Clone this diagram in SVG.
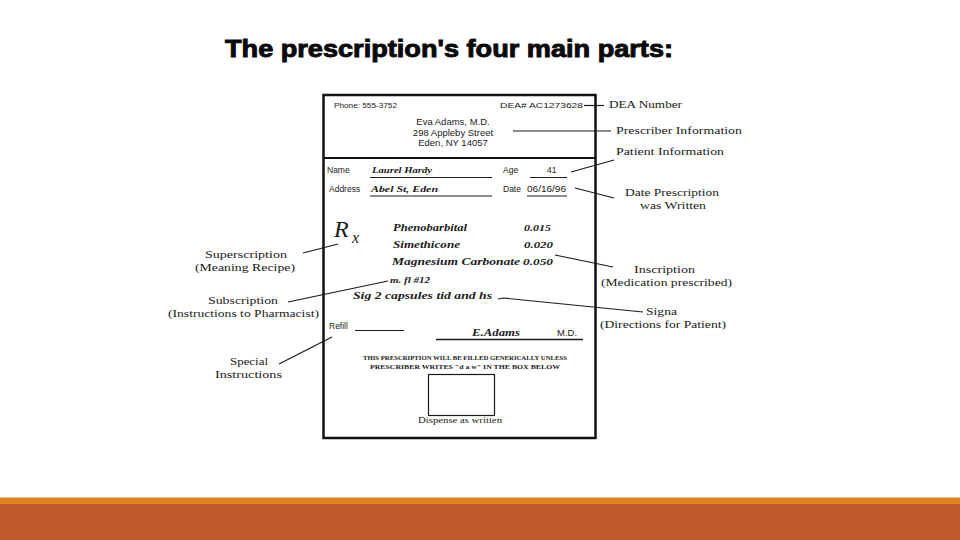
<svg xmlns="http://www.w3.org/2000/svg" width="960" height="540" viewBox="0 0 960 540">
  <style>
    .title { font-family: "Liberation Sans", "DejaVu Sans", sans-serif; font-weight: 900; font-size: 23px; fill: #0a0a0a; stroke: #0a0a0a; stroke-width: 0.9; }
    .lbl { font-family: "Liberation Serif", "DejaVu Serif", serif; font-size: 11px; fill: #1a1a1a; }
    .sans { font-family: "Liberation Sans", "DejaVu Sans", sans-serif; fill: #1a1a1a; }
    .hand { font-family: "Liberation Serif", "DejaVu Serif", serif; font-style: italic; font-weight: bold; fill: #1a1a1a; }
    .rx { font-family: "Liberation Serif", "DejaVu Serif", serif; font-style: italic; font-weight: normal; fill: #1a1a1a; }
    .fine { font-family: "Liberation Serif", "DejaVu Serif", serif; font-weight: bold; font-size: 6px; fill: #1a1a1a; }
    .conn { stroke: #1a1a1a; stroke-width: 1.2; fill: none; }
    .ul { stroke: #1a1a1a; stroke-width: 1; }
  </style>
  <rect x="0" y="0" width="960" height="540" fill="#ffffff"/>

  <g id="title">
    <text class="title" x="225" y="57" textLength="448" lengthAdjust="spacingAndGlyphs">The prescription's four main parts:</text>
  </g>

  <g id="prescription-form">
    <rect x="323.5" y="95" width="272" height="343" fill="#ffffff" stroke="#111" stroke-width="2.5"/>
    <line x1="323.5" y1="158" x2="595.5" y2="158" stroke="#111" stroke-width="2"/>
    <text class="sans" x="334" y="108" font-size="7.5" textLength="63" lengthAdjust="spacingAndGlyphs">Phone: 555-3752</text>
    <text class="sans" x="500" y="108" font-size="7.5" textLength="83" lengthAdjust="spacingAndGlyphs">DEA# AC1273628</text>
    <text class="sans" x="453" y="125" font-size="9.5" text-anchor="middle">Eva Adams, M.D.</text>
    <text class="sans" x="453" y="136" font-size="9.5" text-anchor="middle">298 Appleby Street</text>
    <text class="sans" x="453" y="146" font-size="9.5" text-anchor="middle">Eden, NY 14057</text>

    <text class="sans" x="327" y="173" font-size="8.5">Name</text>
    <text class="hand" x="372" y="173" font-size="8.5" textLength="60" lengthAdjust="spacingAndGlyphs">Laurel Hardy</text>
    <line class="ul" x1="370" y1="177.5" x2="492" y2="177.5"/>
    <text class="sans" x="503" y="173" font-size="8.5">Age</text>
    <text class="sans" x="547" y="173" font-size="8.5">41</text>
    <line class="ul" x1="530" y1="177.5" x2="567" y2="177.5"/>

    <text class="sans" x="329" y="192" font-size="8.5">Address</text>
    <text class="hand" x="371" y="192" font-size="8.5" textLength="67" lengthAdjust="spacingAndGlyphs">Abel St, Eden</text>
    <line class="ul" x1="370" y1="196" x2="492" y2="196"/>
    <text class="sans" x="503" y="192" font-size="8.5">Date</text>
    <text class="sans" x="527" y="192" font-size="8.5" textLength="39" lengthAdjust="spacingAndGlyphs">06/16/96</text>
    <line class="ul" x1="527" y1="196" x2="567" y2="196"/>

    <text class="rx" x="334" y="237" font-size="24">R</text>
    <text class="rx" x="352" y="243" font-size="16">x</text>

    <text class="hand" x="393" y="231" font-size="10" textLength="74" lengthAdjust="spacingAndGlyphs">Phenobarbital</text>
    <text class="hand" x="524" y="231" font-size="9" textLength="27" lengthAdjust="spacingAndGlyphs">0.015</text>
    <text class="hand" x="393" y="248" font-size="10" textLength="67" lengthAdjust="spacingAndGlyphs">Simethicone</text>
    <text class="hand" x="524" y="248" font-size="9" textLength="29" lengthAdjust="spacingAndGlyphs">0.020</text>
    <text class="hand" x="392" y="265" font-size="10" textLength="128" lengthAdjust="spacingAndGlyphs">Magnesium Carbonate</text>
    <text class="hand" x="523" y="265" font-size="9" textLength="30" lengthAdjust="spacingAndGlyphs">0.050</text>
    <text class="hand" x="390" y="283" font-size="9" textLength="40" lengthAdjust="spacingAndGlyphs">m. fl #12</text>
    <text class="hand" x="353" y="299" font-size="10" textLength="139" lengthAdjust="spacingAndGlyphs">Sig 2 capsules tid and hs</text>

    <text class="sans" x="329" y="329" font-size="8.5">Refill</text>
    <line class="ul" x1="355" y1="330.5" x2="404" y2="330.5"/>
    <text class="hand" x="472" y="336" font-size="10" textLength="48" lengthAdjust="spacingAndGlyphs">E.Adams</text>
    <text class="sans" x="557" y="336" font-size="9.5">M.D.</text>
    <line x1="436" y1="339.5" x2="583" y2="339.5" stroke="#1a1a1a" stroke-width="1.4"/>

    <text class="fine" x="363" y="360" textLength="204" lengthAdjust="spacingAndGlyphs">THIS PRESCRIPTION WILL BE FILLED GENERICALLY UNLESS</text>
    <text class="fine" x="370" y="369" textLength="190" lengthAdjust="spacingAndGlyphs">PRESCRIBER WRITES "d a w" IN THE BOX BELOW</text>
    <rect x="428.5" y="374.5" width="66" height="41" fill="none" stroke="#1a1a1a" stroke-width="1.2"/>
    <text class="lbl" x="418" y="423" font-size="8" textLength="84" lengthAdjust="spacingAndGlyphs" style="font-size:8px">Dispense as written</text>
  </g>

  <g id="label-dea">
    <text class="lbl" x="609" y="108" textLength="73" lengthAdjust="spacingAndGlyphs">DEA Number</text>
  </g>
  <g id="label-prescriber">
    <text class="lbl" x="616" y="134" textLength="126" lengthAdjust="spacingAndGlyphs">Prescriber Information</text>
  </g>
  <g id="label-patient">
    <text class="lbl" x="616" y="155" textLength="108" lengthAdjust="spacingAndGlyphs">Patient Information</text>
  </g>
  <g id="label-date">
    <text class="lbl" x="625" y="196" textLength="94" lengthAdjust="spacingAndGlyphs">Date Prescription</text>
    <text class="lbl" x="640" y="209" textLength="66" lengthAdjust="spacingAndGlyphs">was Written</text>
  </g>
  <g id="label-inscription">
    <text class="lbl" x="634" y="273" textLength="61" lengthAdjust="spacingAndGlyphs">Inscription</text>
    <text class="lbl" x="601" y="286" textLength="131" lengthAdjust="spacingAndGlyphs">(Medication prescribed)</text>
  </g>
  <g id="label-signa">
    <text class="lbl" x="646" y="315" textLength="31" lengthAdjust="spacingAndGlyphs">Signa</text>
    <text class="lbl" x="600" y="328" textLength="126" lengthAdjust="spacingAndGlyphs">(Directions for Patient)</text>
  </g>
  <g id="label-superscription">
    <text class="lbl" x="205" y="258" textLength="82" lengthAdjust="spacingAndGlyphs">Superscription</text>
    <text class="lbl" x="195" y="271" textLength="100" lengthAdjust="spacingAndGlyphs">(Meaning Recipe)</text>
  </g>
  <g id="label-subscription">
    <text class="lbl" x="208" y="304" textLength="70" lengthAdjust="spacingAndGlyphs">Subscription</text>
    <text class="lbl" x="168" y="317" textLength="151" lengthAdjust="spacingAndGlyphs">(Instructions to Pharmacist)</text>
  </g>
  <g id="label-special">
    <text class="lbl" x="230" y="365" textLength="38" lengthAdjust="spacingAndGlyphs">Special</text>
    <text class="lbl" x="215" y="378" textLength="67" lengthAdjust="spacingAndGlyphs">Instructions</text>
  </g>

  <g id="connectors">
    <line class="conn" x1="584" y1="105.5" x2="604" y2="105.5"/>
    <line class="conn" x1="513" y1="131" x2="611" y2="131"/>
    <line class="conn" x1="571" y1="172" x2="614" y2="160"/>
    <line class="conn" x1="575" y1="188" x2="614" y2="198"/>
    <line class="conn" x1="555" y1="255" x2="613" y2="267"/>
    <polyline class="conn" points="498,299 503,298 643,312"/>
    <line class="conn" x1="303" y1="253" x2="338" y2="244"/>
    <line class="conn" x1="288" y1="302" x2="388" y2="281"/>
    <line class="conn" x1="279" y1="364" x2="332" y2="337"/>
  </g>

  <g id="footer-bar">
    <rect x="0" y="497.5" width="960" height="7" fill="#E2821A"/>
    <rect x="0" y="504" width="960" height="36" fill="#BE5A2C"/>
  </g>
</svg>
